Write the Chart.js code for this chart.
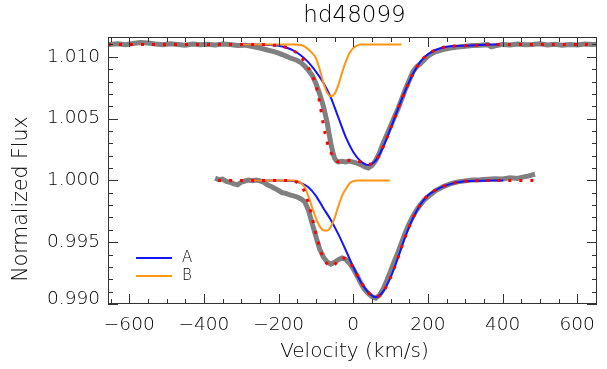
<!DOCTYPE html>
<html>
<head>
<meta charset="utf-8">
<script src="https://cdn.jsdelivr.net/npm/chart.js@4/dist/chart.umd.min.js"></script>
<style>
  body { margin: 0; background: #fff; }
  #myChart { display: block; }
</style>
</head>
<body>
<canvas id="myChart" width="607" height="369"></canvas>
<script>
// observed profile, upper (shifted) line
const velObsTop = [
  -657, -630, -610, -590, -570, -550, -530, -510, -490, -470,
  -450, -430, -410, -390, -370, -350, -330, -310, -290, -270,
  -250, -230, -210, -200, -190, -180, -170, -160, -150, -140,
  -130, -120, -110, -100, -90, -80, -70, -65, -60, -55,
  -50, -45, -40, -30, -20, -10, 0, 10, 20, 30,
  40, 50, 60, 70, 80, 90, 100, 110, 120, 130,
  140, 150, 160, 170, 180, 190, 200, 210, 220, 240,
  260, 280, 300, 320, 340, 360, 370, 380, 400, 420,
  440, 460, 480, 500, 520, 540, 560, 580, 600, 620,
  640, 653
]
const fluxObsTop = [
  1.01100, 1.01105, 1.01098, 1.01108, 1.01115, 1.01112, 1.01104, 1.01098, 1.01106, 1.01100,
  1.01094, 1.01104, 1.01098, 1.01102, 1.01096, 1.01104, 1.01100, 1.01092, 1.01094, 1.01082,
  1.01070, 1.01055, 1.01040, 1.01030, 1.01018, 1.01005, 1.00992, 1.00982, 1.00970, 1.00952,
  1.00925, 1.00890, 1.00850, 1.00785, 1.00700, 1.00600, 1.00470, 1.00380, 1.00300, 1.00230,
  1.00180, 1.00158, 1.00150, 1.00155, 1.00150, 1.00156, 1.00148, 1.00140, 1.00128, 1.00110,
  1.00100, 1.00120, 1.00160, 1.00220, 1.00300, 1.00370, 1.00440, 1.00510, 1.00580, 1.00660,
  1.00740, 1.00810, 1.00880, 1.00920, 1.00945, 1.00975, 1.01005, 1.01025, 1.01040, 1.01058,
  1.01070, 1.01078, 1.01085, 1.01092, 1.01094, 1.01098, 1.01080, 1.01088, 1.01100, 1.01096,
  1.01104, 1.01098, 1.01100, 1.01106, 1.01096, 1.01102, 1.01094, 1.01100, 1.01096, 1.01104,
  1.01100, 1.01102
]

// observed profile, lower line
const velObsBot = [
  -370, -360, -350, -340, -330, -320, -310, -300, -290, -280,
  -270, -260, -250, -240, -230, -220, -210, -200, -190, -180,
  -170, -160, -150, -140, -130, -120, -110, -100, -90, -80,
  -70, -60, -50, -40, -30, -20, -10, 0, 10, 20,
  30, 40, 50, 60, 70, 80, 90, 100, 110, 120,
  130, 140, 150, 160, 170, 180, 190, 200, 220, 240,
  260, 280, 300, 320, 340, 360, 380, 400, 420, 440,
  460, 470, 480, 487
]
const fluxObsBot = [
  1.00018, 1.00005, 1.00010, 0.99992, 0.99985, 0.99972, 0.99965, 0.99985, 0.99995, 1.00002,
  0.99998, 1.00003, 0.99996, 0.99985, 0.99965, 0.99950, 0.99935, 0.99918, 0.99900, 0.99895,
  0.99882, 0.99875, 0.99866, 0.99850, 0.99828, 0.99760, 0.99650, 0.99545, 0.99445, 0.99380,
  0.99340, 0.99322, 0.99338, 0.99358, 0.99372, 0.99360, 0.99330, 0.99285, 0.99230, 0.99170,
  0.99120, 0.99085, 0.99060, 0.99048, 0.99070, 0.99120, 0.99190, 0.99265, 0.99345, 0.99420,
  0.99500, 0.99580, 0.99650, 0.99710, 0.99762, 0.99805, 0.99840, 0.99868, 0.99915, 0.99948,
  0.99972, 0.99988, 0.99996, 1.00004, 1.00006, 1.00010, 1.00014, 1.00012, 1.00022, 1.00016,
  1.00030, 1.00036, 1.00045, 1.00050
]

// component A (blue)
const velATop = [-300, -260, -220, -200, -180, -160, -140, -120, -100, -80, -60, -40, -20, 0, 20, 40, 60, 80, 100, 120, 140, 160, 180, 200, 220, 240, 260, 300, 340, 388]
const fluxATop = [1.0110, 1.0110, 1.01095, 1.0109, 1.01075, 1.0105, 1.0101, 1.00955, 1.0088, 1.0079, 1.0067, 1.0051, 1.0035, 1.0023, 1.00155, 1.00125, 1.0016, 1.0027, 1.0042, 1.0058, 1.0073, 1.0086, 1.0096, 1.0102, 1.01055, 1.01075, 1.01085, 1.0109, 1.01095, 1.0110]
const velABot = [-278, -200, -160, -140, -120, -100, -80, -60, -40, -20, 0, 20, 40, 60, 80, 100, 120, 140, 160, 180, 200, 220, 240, 260, 280, 300, 340, 402]
const fluxABot = [1.0000, 1.0000, 0.99995, 0.99978, 0.99945, 0.99875, 0.99775, 0.9968, 0.99565, 0.99435, 0.99300, 0.9918, 0.99095, 0.99055, 0.9910, 0.99215, 0.99375, 0.9955, 0.99695, 0.99805, 0.99878, 0.9992, 0.9995, 0.9997, 0.99985, 0.99993, 0.99998, 1.0000]

// component B (orange)
const velBTop = [-300, -160, -140, -120, -110, -100, -90, -80, -70, -60, -50, -40, -30, -20, -10, 0, 10, 20, 129]
const fluxBTop = [1.0110, 1.0110, 1.01095, 1.0106, 1.0103, 1.0099, 1.0090, 1.0079, 1.0071, 1.0068, 1.0070, 1.0077, 1.0087, 1.0096, 1.0103, 1.0107, 1.0109, 1.0110, 1.0110]
const velBBot = [-278, -160, -150, -140, -130, -120, -110, -100, -90, -80, -70, -60, -50, -40, -30, -20, -10, 0, 10, 98]
const fluxBBot = [1.0000, 1.0000, 0.99995, 0.99978, 0.99945, 0.9987, 0.9978, 0.99695, 0.9963, 0.99597, 0.99595, 0.99625, 0.99695, 0.9979, 0.99875, 0.9993, 0.99975, 0.99993, 1.0000, 1.0000]

// total fit (red dots)
const velFitTop = [-657, -300, -260, -220, -200, -180, -160, -140, -120, -110, -100, -90, -80, -70, -60, -50, -40, -20, 0, 20, 40, 60, 80, 100, 120, 140, 160, 180, 200, 220, 240, 260, 300, 340, 380, 653]
const fluxFitTop = [1.0110, 1.0110, 1.0110, 1.01095, 1.0109, 1.01075, 1.0105, 1.0100, 1.0091, 1.0085, 1.0077, 1.0063, 1.0045, 1.0031, 1.0023, 1.0017, 1.0015, 1.0016, 1.0016, 1.0015, 1.0013, 1.0016, 1.0027, 1.0042, 1.0058, 1.0073, 1.0086, 1.0096, 1.0102, 1.01055, 1.01075, 1.01085, 1.0109, 1.01095, 1.0110, 1.0110]
const velFitBot = [-362, -280, -200, -160, -150, -140, -130, -120, -110, -100, -90, -80, -70, -60, -50, -40, -30, -20, -10, 0, 20, 40, 60, 80, 100, 120, 140, 160, 180, 200, 220, 240, 260, 280, 300, 340, 487]
const fluxFitBot = [1.0000, 1.0000, 1.0000, 0.99995, 0.99983, 0.99956, 0.99905, 0.99815, 0.99695, 0.9957, 0.99455, 0.99372, 0.99325, 0.99305, 0.99318, 0.99355, 0.99375, 0.99365, 0.99340, 0.99293, 0.9918, 0.99095, 0.99055, 0.9910, 0.99215, 0.99375, 0.9955, 0.99695, 0.99805, 0.99878, 0.9992, 0.9995, 0.9997, 0.99985, 0.99993, 0.99998, 1.0000]

const xTickLabels = [-600, -400, -200, 0, 200, 400, 600]
const yTickLabels = [0.990, 0.995, 1.000, 1.005, 1.010]
const legendLabels = ['A', 'B']

const colObs = 'rgb(128,128,128)'
const colA = 'rgb(20,20,255)'
const colB = 'rgb(255,150,20)'
const colFit = 'rgb(255,0,0)'
const textFont = '"DejaVu Sans", sans-serif'

function pts(xs, ys) {
    return xs.map((x, i) => ({ x: x, y: ys[i] }))
}

// frame, inward ticks, labels, title and legend (IDL look)
const idlAxes = {
    id: 'idlAxes',
    afterDraw(chart) {
        const ctx = chart.ctx
        const a = chart.chartArea
        const xs = chart.scales.x
        const ys = chart.scales.y
        ctx.save()
        ctx.strokeStyle = '#333'
        ctx.lineWidth = 1
        ctx.strokeRect(a.left + 0.5, a.top + 0.5, a.right - a.left - 1, a.bottom - a.top - 1)

        ctx.beginPath()
        for (let v = -650; v <= 650; v += 50) {
            const px = Math.round(xs.getPixelForValue(v)) + 0.5
            const len = (v % 200 === 0) ? 10 : 5
            ctx.moveTo(px, a.bottom); ctx.lineTo(px, a.bottom - len)
            ctx.moveTo(px, a.top); ctx.lineTo(px, a.top + len)
        }
        for (let k = 990; k <= 1011; k++) {
            const py = Math.round(ys.getPixelForValue(k / 1000)) + 0.5
            const len = (k % 5 === 0) ? 10 : 5
            ctx.moveTo(a.left, py); ctx.lineTo(a.left + len, py)
            ctx.moveTo(a.right, py); ctx.lineTo(a.right - len, py)
        }
        ctx.stroke()

        ctx.fillStyle = '#000'
        ctx.font = '200 18.5px ' + textFont
        ctx.textAlign = 'center'
        ctx.textBaseline = 'middle'
        xTickLabels.forEach(v => {
            const label = (v < 0 ? '\u2212' : '') + Math.abs(v)
            ctx.fillText(label, xs.getPixelForValue(v), 325)
        })
        ctx.textAlign = 'right'
        yTickLabels.forEach(v => {
            const py = Math.min(ys.getPixelForValue(v), a.bottom - 5)
            ctx.fillText(v.toFixed(3), a.left - 8, py)
        })

        const cx = (a.left + a.right) / 2
        ctx.textAlign = 'center'
        ctx.font = '200 23px ' + textFont
        ctx.fillText('hd48099', cx + 2, 16)
        ctx.font = '200 20px ' + textFont
        ctx.fillText('Velocity (km/s)', cx + 2, 352)
        ctx.save()
        ctx.translate(22, 199)
        ctx.rotate(-Math.PI / 2)
        ctx.font = '200 20.5px ' + textFont
        ctx.fillText('Normalized Flux', 0, 0)
        ctx.restore()

        // legend
        ctx.lineWidth = 2
        ctx.font = '200 15px ' + textFont
        ctx.textAlign = 'left';
        [colA, colB].forEach((c, i) => {
            const y = 258 + i * 18
            ctx.strokeStyle = c
            ctx.beginPath()
            ctx.moveTo(136, y); ctx.lineTo(172, y)
            ctx.stroke()
            ctx.fillText(legendLabels[i], 182, y)
        })
        ctx.restore()
    }
}

function line(data, color, width, order, extra) {
    return Object.assign({
        data: data,
        borderColor: color,
        borderWidth: width,
        pointRadius: 0,
        fill: false,
        order: order,
        cubicInterpolationMode: 'monotone'
    }, extra || {})
}

const config = {
    type: 'line',
    data: {
        datasets: [
            line(pts(velObsTop, fluxObsTop), colObs, 5, 3, { cubicInterpolationMode: 'default', tension: 0 }),
            line(pts(velObsBot, fluxObsBot), colObs, 5, 3, { cubicInterpolationMode: 'default', tension: 0 }),
            line(pts(velATop, fluxATop), colA, 2, 2),
            line(pts(velABot, fluxABot), colA, 2, 2),
            line(pts(velBTop, fluxBTop), colB, 2, 1),
            line(pts(velBBot, fluxBBot), colB, 2, 1),
            line(pts(velFitTop, fluxFitTop), colFit, 3, 0, { borderDash: [3, 8] }),
            line(pts(velFitBot, fluxFitBot), colFit, 3, 0, { borderDash: [3, 8] })
        ]
    },
    options: {
        responsive: false,
        animation: false,
        devicePixelRatio: 1,
        layout: { padding: { left: 108, right: 10, top: 37, bottom: 65 } },
        scales: {
            x: { type: 'linear', min: -657, max: 653, display: false },
            y: { type: 'linear', min: 0.9900, max: 1.0116, display: false }
        },
        plugins: {
            legend: { display: false },
            tooltip: { enabled: false }
        }
    },
    plugins: [idlAxes]
}

const myChart = new Chart(document.getElementById('myChart'), config)
</script>
</body>
</html>
